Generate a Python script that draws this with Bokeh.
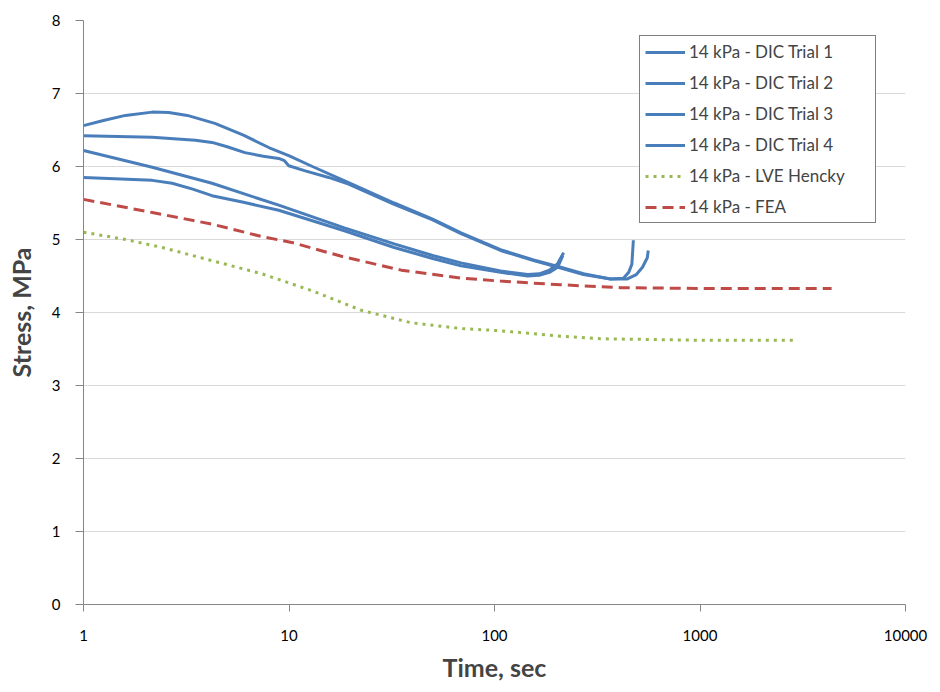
from bokeh.plotting import figure
from bokeh.models import Range1d, FixedTicker, PrintfTickFormatter, Legend, LegendItem
from bokeh.embed import file_html
from bokeh.resources import INLINE

# ---- data ----
t_trial1 = [1, 1.25, 1.6, 2.16, 2.6, 3.2, 4.36, 6, 7.97, 9.97, 13, 19.5, 32.5, 50, 68.7, 107, 155, 210, 271, 367, 424, 450, 466, 474]
s_trial1 = [6.56, 6.63, 6.70, 6.745, 6.74, 6.70, 6.59, 6.43, 6.26, 6.15, 6.00, 5.78, 5.50, 5.28, 5.09, 4.86, 4.72, 4.62, 4.53, 4.46, 4.47, 4.55, 4.66, 4.99]

t_trial2 = [1, 2.16, 3.5, 4.22, 5.0, 6.1, 7.5, 8.91, 9.5, 9.97, 12, 15.6, 19.5, 32.5, 50, 68.7, 107, 155, 210, 271, 367, 443, 490, 525, 554, 560]
s_trial2 = [6.42, 6.40, 6.36, 6.33, 6.27, 6.19, 6.14, 6.11, 6.08, 6.01, 5.94, 5.85, 5.76, 5.48, 5.27, 5.08, 4.85, 4.71, 4.61, 4.52, 4.46, 4.46, 4.52, 4.62, 4.75, 4.85]

t_trial3 = [1, 2.16, 4.22, 8.91, 18.6, 32.5, 50, 68.7, 107, 145, 165, 185, 203, 217]
s_trial3 = [6.22, 5.99, 5.77, 5.47, 5.16, 4.94, 4.78, 4.68, 4.57, 4.52, 4.53, 4.58, 4.67, 4.82]

t_trial4 = [1, 2.16, 2.7, 3.4, 4.22, 6, 8.91, 18.6, 32.5, 50, 68.7, 107, 145, 165, 185, 203, 215]
s_trial4 = [5.85, 5.81, 5.77, 5.69, 5.60, 5.51, 5.40, 5.12, 4.89, 4.74, 4.64, 4.55, 4.50, 4.51, 4.55, 4.62, 4.78]

t_lve = [1, 1.6, 2.42, 4.22, 7.38, 12.9, 22.5, 39.3, 68.7, 107, 200, 328, 1000, 2990]
s_lve = [5.10, 5.00, 4.89, 4.71, 4.53, 4.30, 4.03, 3.86, 3.78, 3.75, 3.68, 3.64, 3.62, 3.62]

t_fea = [1, 2.16, 4.22, 7.38, 10.3, 18, 35.2, 68.7, 107, 210, 410, 1000, 4370]
s_fea = [5.55, 5.37, 5.21, 5.04, 4.96, 4.77, 4.58, 4.47, 4.43, 4.38, 4.34, 4.33, 4.33]

labels = ["14 kPa - DIC Trial 1", "14 kPa - DIC Trial 2", "14 kPa - DIC Trial 3",
          "14 kPa - DIC Trial 4", "14 kPa - LVE Hencky", "14 kPa - FEA"]
x_ticks = [1, 10, 100, 1000, 10000]
y_ticks = [0, 1, 2, 3, 4, 5, 6, 7, 8]

BLUE = "#4A7EBB"
RED = "#BE4B48"
GREEN = "#98B954"
FONT = "Lato"

p = figure(width=932, height=684, x_axis_type="log",
           x_range=Range1d(1, 10000), y_range=Range1d(0, 8),
           output_backend="svg", toolbar_location=None,
           min_border_left=83, min_border_right=27, min_border_top=20, min_border_bottom=80)
p.outline_line_color = None
p.background_fill_color = "white"
p.border_fill_color = "white"

r1 = p.line(t_trial1, s_trial1, line_color=BLUE, line_width=3)
r2 = p.line(t_trial2, s_trial2, line_color=BLUE, line_width=3)
r3 = p.line(t_trial3, s_trial3, line_color=BLUE, line_width=3)
r4 = p.line(t_trial4, s_trial4, line_color=BLUE, line_width=3)
r5 = p.line(t_lve, s_lve, line_color=GREEN, line_width=3, line_dash="3 5")
r6 = p.line(t_fea, s_fea, line_color=RED, line_width=3, line_dash="11 6")

# axes
xa = p.xaxis[0]
xa.ticker = FixedTicker(ticks=x_ticks)
xa.formatter = PrintfTickFormatter(format="%d")
xa.minor_tick_line_color = None
xa.major_tick_in = 0
xa.major_tick_out = 7
xa.axis_line_color = "#868686"
xa.major_tick_line_color = "#868686"
xa.major_label_text_font = FONT
xa.major_label_text_font_size = "15px"
xa.major_label_text_color = "#000000"
xa.major_label_standoff = 18
xa.axis_label = "Time, sec"
xa.axis_label_text_font = FONT
xa.axis_label_text_font_style = "bold"
xa.axis_label_text_font_size = "25px"
xa.axis_label_standoff = 8

ya = p.yaxis[0]
ya.ticker = FixedTicker(ticks=y_ticks)
ya.minor_tick_line_color = None
ya.major_tick_in = 0
ya.major_tick_out = 8
ya.axis_line_color = "#868686"
ya.major_tick_line_color = "#868686"
ya.major_label_text_font = FONT
ya.major_label_text_font_size = "15px"
ya.major_label_text_color = "#000000"
ya.major_label_standoff = 15
ya.axis_label = "Stress, MPa"
ya.axis_label_text_font = FONT
ya.axis_label_text_font_style = "bold"
ya.axis_label_text_font_size = "25px"
ya.axis_label_standoff = 13

p.xgrid.grid_line_color = None
p.ygrid.grid_line_color = "#D9D9D9"
p.ygrid.grid_line_width = 1

legend = Legend(items=[LegendItem(label=l, renderers=[r]) for l, r in
                       zip(labels, [r1, r2, r3, r4, r5, r6])],
                location=(556, 381), margin=0, padding=5,
                glyph_width=40, glyph_height=20, label_height=20, label_width=181,
                label_standoff=4, spacing=10,
                label_text_font=FONT, label_text_font_size="17px",
                border_line_color="black", border_line_width=1,
                background_fill_color="white", background_fill_alpha=1.0)
p.add_layout(legend)

open("out.html", "w").write(file_html(p, INLINE))
